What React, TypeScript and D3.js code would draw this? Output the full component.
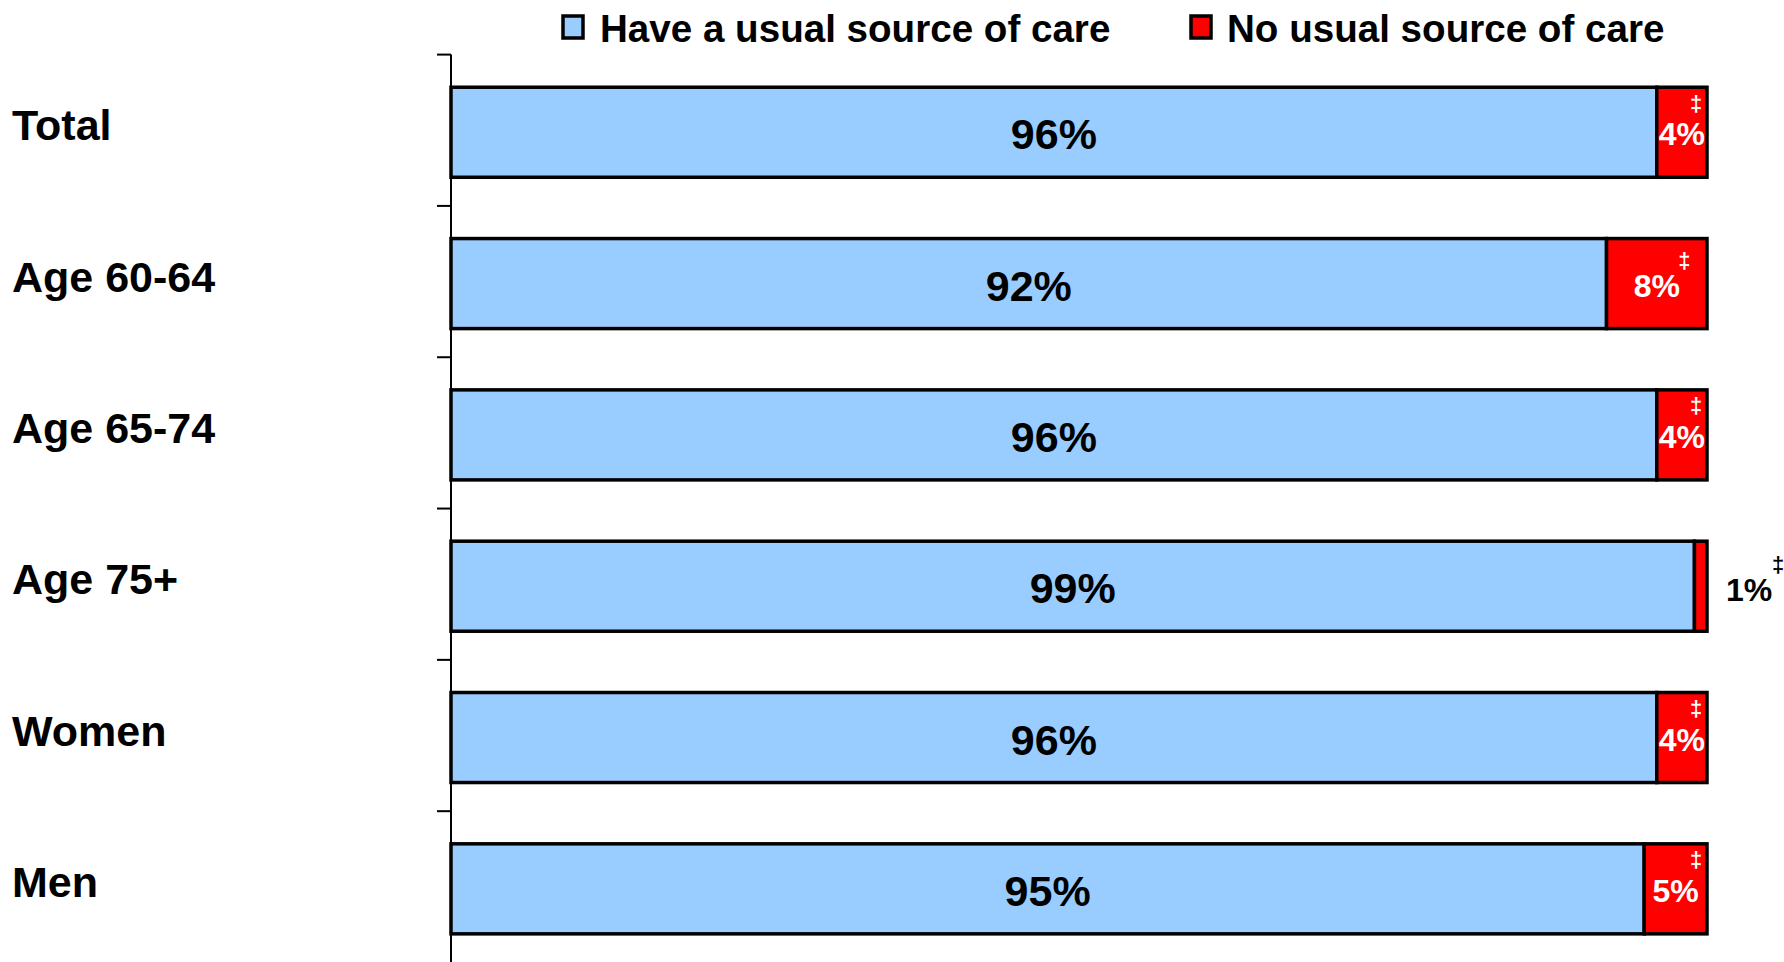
import React from "react";
import * as d3 from "d3";

const categories = ["Total", "Age 60-64", "Age 65-74", "Age 75+", "Women", "Men"];
const haveCare = [96, 92, 96, 99, 96, 95];
const noCare = [4, 8, 4, 1, 4, 5];
const seriesNames = ["Have a usual source of care", "No usual source of care"];
const footMark = "‡";

const W = 1784;
const H = 962;
const FONT = "'Liberation Sans', Arial, Helvetica, sans-serif";
const BLUE = "#99CCFF";
const RED = "#FF0000";
const BAR_SHIFT = 2;

export default function App() {
  React.useEffect(() => {
    document.body.style.margin = "0";
    document.body.style.overflow = "hidden";
  }, []);

  const y = d3.scaleBand<string>().domain(categories).range([54.6, 962.5]).paddingInner(0.405).paddingOuter(0.2025);
  const x = d3.scaleLinear().domain([0, 100]).range([451, 1707]);
  const step = y.step();
  const axisTop = y.range()[0];

  return (
    <svg width={W} height={H} style={{ position: "absolute", left: 0, top: 0, background: "#fff" }} fontFamily={FONT}>
      {/* legend */}
      <g>
        <rect x={563} y={16} width={20} height={22} fill={BLUE} stroke="#000" strokeWidth={3.5} />
        <text x={600} y={28} dominantBaseline="central" fontSize={38.6} fontWeight="bold" fill="#000">{seriesNames[0]}</text>
        <rect x={1191} y={16} width={20} height={22} fill={RED} stroke="#000" strokeWidth={3.5} />
        <text x={1227} y={28} dominantBaseline="central" fontSize={38.6} fontWeight="bold" fill="#000">{seriesNames[1]}</text>
      </g>
      {/* axis */}
      <line x1={451} x2={451} y1={axisTop} y2={H} stroke="#000" strokeWidth={2} />
      {categories.map((c, i) => (
        <line key={"t" + c} x1={437} x2={451} y1={axisTop + step * i} y2={axisTop + step * i} stroke="#000" strokeWidth={2} />
      ))}
      {/* category labels */}
      {categories.map((c) => {
        const cy = (y(c) as number) + y.bandwidth() / 2;
        return (
          <text key={"l" + c} x={12} y={cy - 5} dominantBaseline="central" fontSize={43} fontWeight="bold" fill="#000">{c}</text>
        );
      })}
      {/* bars */}
      {categories.map((c, i) => {
        const top = (y(c) as number) + BAR_SHIFT;
        const bh = y.bandwidth();
        const cy = top + bh / 2;
        const x0 = x(0);
        const x1 = x(haveCare[i]);
        const x2 = x(haveCare[i] + noCare[i]);
        const redW = x2 - x1;
        const outside = noCare[i] < 3;
        const redCenter = (x1 + x2) / 2;
        const labelHalf = 23.5;
        let markX: number;
        let labelEl: React.ReactNode;
        if (outside) {
          labelEl = (
            <text x={x2 + 19} y={cy + 4} dominantBaseline="central" fontSize={32} fontWeight="bold" fill="#000">{noCare[i] + "%"}</text>
          );
          markX = x2 + 19 + 47 + 5;
        } else {
          labelEl = (
            <text x={redCenter} y={cy + 2} textAnchor="middle" dominantBaseline="central" fontSize={32} fontWeight="bold" fill="#fff">{noCare[i] + "%"}</text>
          );
          markX = Math.min(redCenter + labelHalf + 4, x2 - 11);
        }
        const clamped = !outside && markX === x2 - 11;
        const markY = outside ? cy - 22 : cy + 2 - (clamped ? 31 : 25);
        return (
          <g key={"b" + c}>
            <rect x={x0} y={top} width={x1 - x0} height={bh} fill={BLUE} stroke="#000" strokeWidth={3.5} />
            <rect x={x1} y={top} width={redW} height={bh} fill={RED} stroke="#000" strokeWidth={3.5} />
            <text x={(x0 + x1) / 2} y={cy + 2} textAnchor="middle" dominantBaseline="central" fontSize={43} fontWeight="bold" fill="#000">{haveCare[i] + "%"}</text>
            {labelEl}
            <text x={markX} y={markY} textAnchor="middle" dominantBaseline="central" fontSize={22} fontWeight="bold" fill={outside ? "#000" : "#fff"}>{footMark}</text>
          </g>
        );
      })}
    </svg>
  );
}
